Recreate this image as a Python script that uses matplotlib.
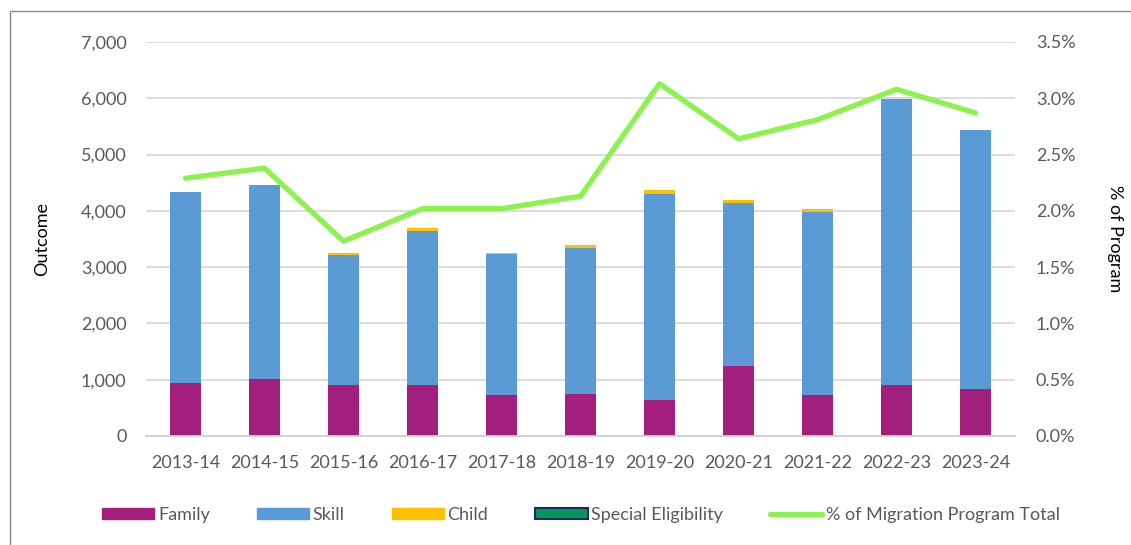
import matplotlib
matplotlib.use("Agg")
import matplotlib.pyplot as plt
import numpy as np
from matplotlib.patches import Rectangle, Patch
from matplotlib.lines import Line2D
from matplotlib.ticker import FuncFormatter, MultipleLocator

plt.rcParams['font.family'] = ['Lato', 'DejaVu Sans']

years = ["2013-14", "2014-15", "2015-16", "2016-17", "2017-18", "2018-19",
         "2019-20", "2020-21", "2021-22", "2022-23", "2023-24"]
family = [945, 1010, 903, 903, 720, 743, 632, 1245, 726, 903, 832]
skill = [3385, 3450, 2306, 2743, 2519, 2602, 3675, 2902, 3262, 5079, 4602]
child = [0, 0, 48, 47, 18, 53, 65, 48, 47, 0, 0]
special = [0, 0, 0, 0, 0, 0, 0, 0, 0, 0, 0]
pct_total = [2.29, 2.38, 1.73, 2.02, 2.02, 2.13, 3.13, 2.64, 2.81, 3.08, 2.87]

c_family = "#A31F7D"
c_skill = "#5B9BD5"
c_child = "#FFC000"
c_special = "#00965E"
c_special_edge = "#1F2A5A"
c_line = "#8CF250"
c_text = "#595959"

fig = plt.figure(figsize=(11.31, 5.45), dpi=100)
ax = fig.add_axes([146/1131, 1-436/545, (1015-146)/1131, (436-42)/545])

x = np.arange(len(years))
w = 0.405
fam = np.array(family); sk = np.array(skill); ch = np.array(child); sp = np.array(special)
ax.bar(x, fam, w, color=c_family, linewidth=0, zorder=2)
ax.bar(x, sk, w, bottom=fam, color=c_skill, linewidth=0, zorder=2)
ax.bar(x, ch, w, bottom=fam+sk, color=c_child, linewidth=0, zorder=2)
ax.bar(x, sp, w, bottom=fam+sk+ch, color=c_special, linewidth=0, zorder=2)

ax.set_xlim(-0.5, len(years)-0.5)
ax.set_ylim(0, 7000)
ax.yaxis.set_major_locator(MultipleLocator(1000))
ax.yaxis.set_major_formatter(FuncFormatter(lambda v, p: f"{int(v):,}"))
ax.grid(axis='y', color="#D9D9D9", linewidth=1.3, zorder=0)
ax.set_axisbelow(True)
for s in ['top', 'right', 'left']:
    ax.spines[s].set_visible(False)
ax.spines['bottom'].set_color("#D0D0D0")
ax.spines['bottom'].set_linewidth(1.3)
ax.tick_params(axis='x', length=0, labelsize=13, colors=c_text, pad=14)
ax.tick_params(axis='y', length=0, labelsize=13, colors=c_text, pad=14)
ax.set_xticks(x)
ax.set_xticklabels(years)
ax.set_ylabel("Outcome", fontsize=13, color="black", labelpad=22)

ax2 = ax.twinx()
ax2.plot(x, pct_total, color=c_line, linewidth=3.8, solid_capstyle='round', zorder=3)
ax2.set_ylim(0, 3.5)
ax2.yaxis.set_major_locator(MultipleLocator(0.5))
ax2.yaxis.set_major_formatter(FuncFormatter(lambda v, p: f"{v:.1f}%"))
for s in ['top', 'right', 'left', 'bottom']:
    ax2.spines[s].set_visible(False)
ax2.tick_params(axis='y', length=0, labelsize=13, colors=c_text, pad=15)
ax2.set_ylabel("% of Program", fontsize=13, color="black", rotation=-90, labelpad=34)

handles = [
    Patch(facecolor=c_family, edgecolor=c_family),
    Patch(facecolor=c_skill, edgecolor=c_skill),
    Patch(facecolor=c_child, edgecolor=c_child),
    Patch(facecolor=c_special, edgecolor=c_special_edge, linewidth=1.5),
    Line2D([0], [0], color=c_line, linewidth=3.8, solid_capstyle='round'),
]
labels = ["Family", "Skill", "Child", "Special Eligibility", "% of Migration Program Total"]
leg = fig.legend(handles, labels, loc='center', bbox_to_anchor=(581/1131, 1-515/545),
                 ncol=5, frameon=False, fontsize=13, handlelength=2.9, handleheight=0.6,
                 columnspacing=2.6, handletextpad=0.2)
for t in leg.get_texts():
    t.set_color(c_text)

# figure frame (cropped: only left and top edges visible)
fig.add_artist(Rectangle((10/1131, -0.1), 1.2, 1+0.1-11/545, transform=fig.transFigure,
                         fill=False, edgecolor="#8C8C8C", linewidth=1.0))

fig.savefig("out.png", dpi=100)
